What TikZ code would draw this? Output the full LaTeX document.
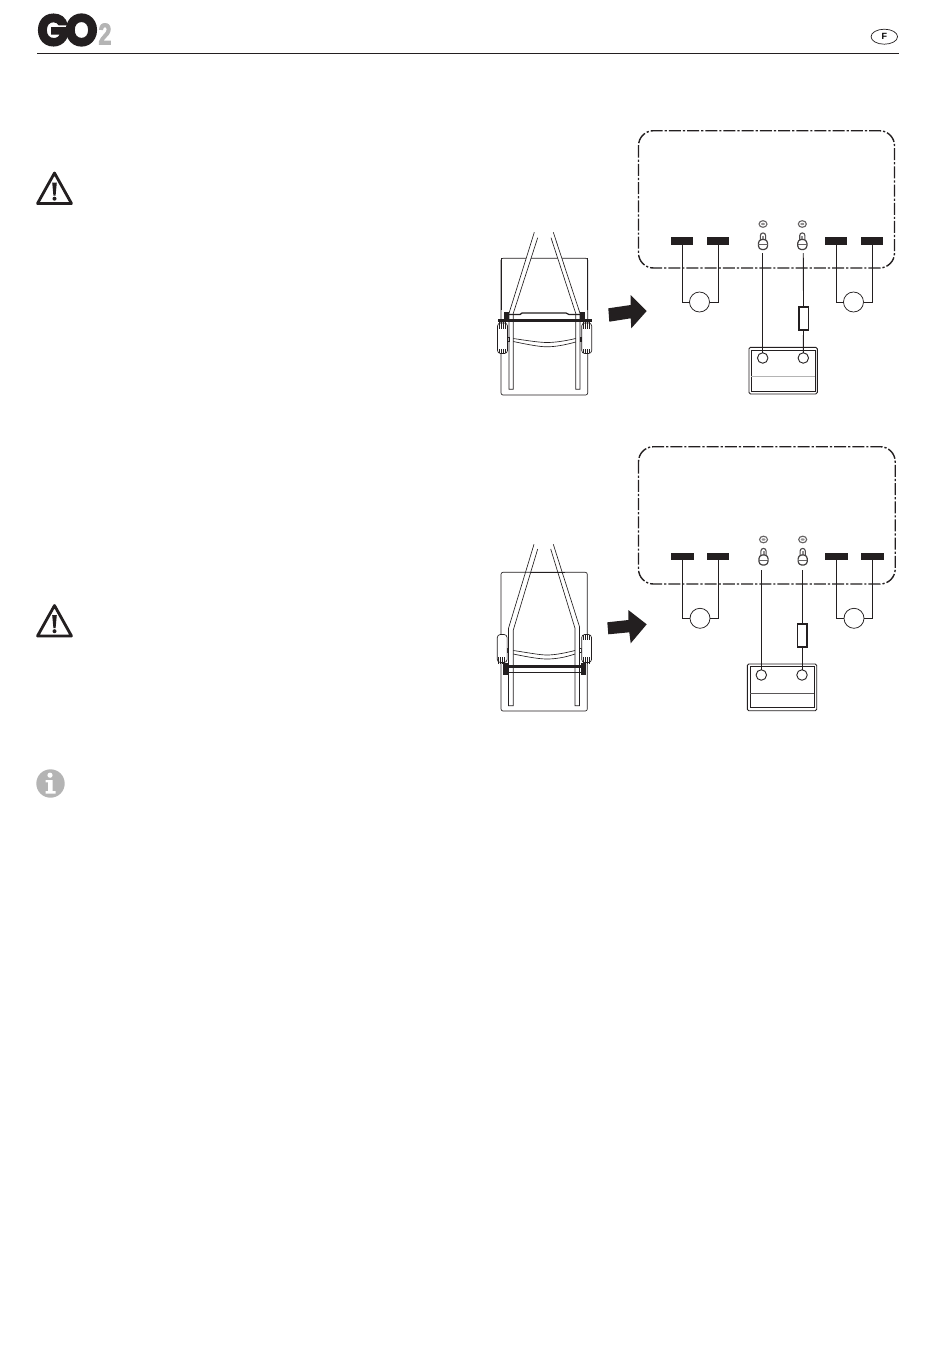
\documentclass[tikz,border=0pt]{standalone}
\usepackage{fontspec}
\usepackage{graphicx}
\setmainfont{Liberation Sans}
\newfontfamily\logofont[FakeBold=4.5]{Poppins Bold}
\newfontfamily\twofont[FakeBold=3]{Liberation Sans Bold}
\usetikzlibrary{shapes.geometric}
\definecolor{ink}{HTML}{231F20}
\definecolor{logogray}{HTML}{B4B4B4}
\tikzset{
  termbar/.style={draw=none,fill=ink,minimum height=7.4pt,inner sep=0pt,outer sep=0pt},
  wire/.style={draw=ink,line width=.85pt},
  lamp/.style={circle,draw=ink,fill=white,line width=.75pt,minimum size=20pt,inner sep=0pt,outer sep=0pt},
  post/.style={circle,draw=ink,fill=white,line width=.9pt,minimum size=10.5pt,inner sep=0pt,outer sep=0pt},
  fusebox/.style={draw=ink,fill=white,line width=1.5pt,minimum width=9.5pt,minimum height=23pt,inner sep=0pt,outer sep=0pt},
  housing/.style={draw=ink,line width=1.4pt,rounded corners=15pt,dash pattern=on 12pt off 2pt on 2.2pt off 2pt},
  thin/.style={draw=ink,line width=.65pt},
  thick/.style={draw=ink,line width=3pt},
  warnbox/.style={draw=ink,line width=2.8pt,line join=round},
  boltpic/.pic={
    \draw[draw=ink!70,fill=white,line width=1.1pt] (0,-27) ellipse (4pt and 3.3pt);
    \fill[ink!50] (0,-27) ellipse (2pt and 1.2pt);
    \draw[draw=ink!80,fill=white,line width=1.1pt] (-2.6,-9) -- (-2.6,-15.5) arc[start angle=180,end angle=0,radius=2.6pt] -- (2.6,-9);
    \fill[ink!50] (-1,-15.5) rectangle (1,-11);
    \draw[draw=ink!85,fill=white,line width=1.2pt,rounded corners=1.2pt] (-4.6,-4) -- (-4.6,-9) -- (-2.4,-11.5) -- (2.4,-11.5) -- (4.6,-9) -- (4.6,-4) -- (2.4,-1.5) -- (-2.4,-1.5) -- cycle;
    \draw[draw=ink!70,line width=.8pt] (-4.6,-6.5) -- (4.6,-6.5);
  },
  warnpic/.pic={
    \draw[warnbox,fill=white] (0,-15.5) -- (17,15) -- (-17,15) -- cycle;
    \fill[ink] (-2.3,-6) -- (2.3,-6) -- (1.1,7) -- (-1.1,7) -- cycle;
    \fill[ink] (0,10.2) circle (2pt);
  },
}
\begin{document}
\begin{tikzpicture}[x=1pt,y=-1pt]
\path[use as bounding box,fill=white] (0,0) rectangle (950,1360);

% header
\node[inner sep=0pt] (logoGO) at (67.5,30) {\resizebox{60pt}{31pt}{\color{ink}\logofont G\kern-.08em O}};
\node[inner sep=0pt] (logo2) at (105,34) {\resizebox{13pt}{21pt}{\color{logogray}\twofont 2}};
\coordinate (ruleA) at (37,53.5);
\coordinate (ruleB) at (899,53.5);
\draw[draw=ink,line width=1pt] (ruleA) -- (ruleB);
\node[ellipse,draw=ink,line width=.7pt,minimum width=26.5pt,minimum height=15pt,inner sep=0pt] (lang) at (884.3,36.7) {\fontsize{9}{9}\selectfont\bfseries F};

% icons
\pic at (54.5,188.5) {warnpic};
\pic at (54.5,621) {warnpic};
\fill[logogray] (50.5,783.5) circle (14.2pt);
\fill[white] (50,775.2) circle (2.6pt);
\fill[white] (45.5,780) -- (52.6,780) -- (52.6,791) -- (55.5,791) -- (55.5,793.5) -- (45.5,793.5) -- (45.5,791) -- (48,791) -- (48,782.3) -- (45.5,782.3) -- cycle;

% ===== upper chair =====
\draw[thin,rounded corners=2pt] (501,258.3) rectangle (587.7,395);
\fill[white] (505,300) rectangle (584,330);
\draw[thin,fill=white] (534.3,232.3) -- (509,313.3) -- (509,389.3) -- (513.3,389.3) -- (513.3,313.3) -- (537.7,237.7);
\draw[thin,fill=white] (553.3,232.3) -- (580,313.3) -- (580,389.3) -- (575.7,389.3) -- (575.7,313.3) -- (551,237.7);
\draw[thin] (501,258.3) -- (501,310);
\draw[thin] (587.7,258.3) -- (587.7,310);
\draw[draw=ink,line width=1.3pt] (505,314.5) -- (520,314.5) -- (522,313) -- (566,313) -- (569,314.5) -- (583,314.5);
\draw[thick] (498,320.7) -- (591.7,320.7);
\fill[ink] (503.5,312) rectangle (508.5,320);
\fill[ink] (580,312) rectangle (585,320);
\foreach \gx in {497.5,581.7}{
  \draw[thin,fill=white,rounded corners=3pt] (\gx,323) rectangle (\gx+10,353.5);
  \foreach \d in {1.5,3.5,5.5,7.5}{
    \draw[draw=ink,line width=.8pt] (\gx+\d,322) -- (\gx+\d,329);
    \draw[draw=ink,line width=.5pt] (\gx+\d,349) -- (\gx+\d,353);
  }
}
\draw[thin] (513.3,338.5) .. controls (530,341) and (540,342.5) .. (547,342.5) .. controls (555,342.5) and (565,341) .. (575.7,338.5);
\draw[thin] (513.3,341.5) .. controls (530,345) and (540,346.8) .. (547,346.8) .. controls (555,346.8) and (565,345) .. (575.7,342);
\draw[thin] (507.5,337.5) rectangle (509,341.5);
\draw[thin] (580,337.5) rectangle (581.7,341.5);

% arrow 1
\fill[ink] (608.3,308.3) -- (630.7,305) -- (630.7,295) -- (646.7,311) -- (631.3,328.3) -- (630.7,318.3) -- (609.3,321.7) -- cycle;

% ===== upper wiring =====
\path[housing] (638.5,130.7) rectangle (894.5,268);
\node[termbar,minimum width=22pt] (a1) at (682,241) {};
\node[termbar,minimum width=22pt] (a2) at (718,241) {};
\node[termbar,minimum width=22pt] (a3) at (836,241) {};
\node[termbar,minimum width=22pt] (a4) at (872,241) {};
\node[lamp] (al) at (699.5,302) {};
\node[lamp] (ar) at (853.5,302) {};
\draw[wire] (a1) |- (al);
\draw[wire] (a2) |- (al);
\draw[wire] (a3) |- (ar);
\draw[wire] (a4) |- (ar);
\pic at (763,251) {boltpic};
\pic at (802.3,251) {boltpic};
\draw[draw=ink,line width=.9pt,rounded corners=1.5pt] (749,347.3) rectangle (817.3,394);
\draw[draw=ink,line width=.8pt] (751.2,350) rectangle (815,391.6);
\draw[draw=logogray,line width=1.4pt] (751.2,376.7) -- (815,376.7);
\node[post] (ap) at (762.7,358) {};
\node[post] (aq) at (803.3,358) {};
\node[fusebox] (af) at (803.5,318.3) {};
\coordinate (as) at (762.7,253);
\coordinate (at) at (803.3,253);
\draw[wire] (as) -- (ap);
\draw[wire] (at) -- (af);
\draw[wire] (af) -- (aq);

% ===== lower chair =====
\draw[thin,rounded corners=2pt] (501,572.3) rectangle (587.3,711);
\draw[draw=ink,line width=.9pt] (531,572.5) -- (565,572.5);
\fill[white] (534,574) -- (511,640) -- (577,640) -- (553,574) -- cycle;
\draw[thin] (534,544.3) -- (508.5,628.3) -- (508.5,705.7) -- (513.3,705.7) -- (513.3,630) -- (537.7,549);
\draw[thin] (553.3,544.3) -- (579.5,626.7) -- (579.5,705.7) -- (575,705.7) -- (575,628.3) -- (550.7,549);
\draw[thin] (513.3,650.5) .. controls (530,653) and (540,655) .. (547,655) .. controls (555,655) and (565,653) .. (575,650.5);
\draw[thin] (513.3,654) .. controls (530,657.5) and (540,659) .. (547,659) .. controls (555,659) and (565,657.5) .. (575,654);
\draw[thin] (507,648.5) rectangle (508.5,652.5);
\draw[thin] (579.5,648.5) rectangle (581.5,652.5);
\foreach \gx in {497.3,581.7}{
  \draw[thin,fill=white,rounded corners=3pt] (\gx,634.5) rectangle (\gx+9.8,662.5);
}
\foreach \d in {1.5,3.5,5.5,7.5}{
  \draw[draw=ink,line width=.8pt] (497.3+\d,657) -- (497.3+\d,664);
  \draw[draw=ink,line width=.8pt] (581.7+\d,657) -- (581.7+\d,664);
  \draw[draw=ink,line width=.6pt] (581.7+\d,635) -- (581.7+\d,640);
}
\fill[ink] (503.3,663) rectangle (507.7,675);
\fill[ink] (581,663) rectangle (585.7,675);
\draw[thick] (503.3,666) -- (585,666);
\draw[draw=ink,line width=1pt] (503.3,672.3) -- (585,672.3);

% arrow 2
\fill[ink] (607.3,622.3) -- (628.3,620) -- (628.3,610) -- (646.7,624.3) -- (630.7,643.3) -- (629.3,632.3) -- (608.3,634.3) -- cycle;

% ===== lower wiring =====
\path[housing] (638.5,446.7) rectangle (895.2,584);
\node[termbar,minimum width=23pt] (b1) at (682.5,556.5) {};
\node[termbar,minimum width=22pt] (b2) at (718,556.5) {};
\node[termbar,minimum width=23pt] (b3) at (836.5,556.5) {};
\node[termbar,minimum width=23pt] (b4) at (872.5,556.5) {};
\node[lamp] (bl) at (700,618.3) {};
\node[lamp] (br) at (854,618.3) {};
\draw[wire] (b1) |- (bl);
\draw[wire] (b2) |- (bl);
\draw[wire] (b3) |- (br);
\draw[wire] (b4) |- (br);
\pic at (763.5,566.5) {boltpic};
\pic at (802.7,566.5) {boltpic};
\draw[draw=ink,line width=.9pt,rounded corners=1.5pt] (747.3,664) rectangle (816.7,710.7);
\draw[draw=ink,line width=.8pt] (750,666.7) rectangle (814,707.7);
\draw[draw=ink!75,line width=.8pt] (750,693.3) -- (814,693.3);
\node[post] (bp) at (761.3,675) {};
\node[post] (bq) at (802,675) {};
\node[fusebox] (bf) at (802,635.3) {};
\coordinate (bs) at (761.3,570);
\coordinate (bt) at (802,570);
\draw[wire] (bs) -- (bp);
\draw[wire] (bt) -- (bf);
\draw[wire] (bf) -- (bq);
\end{tikzpicture}
\end{document}
